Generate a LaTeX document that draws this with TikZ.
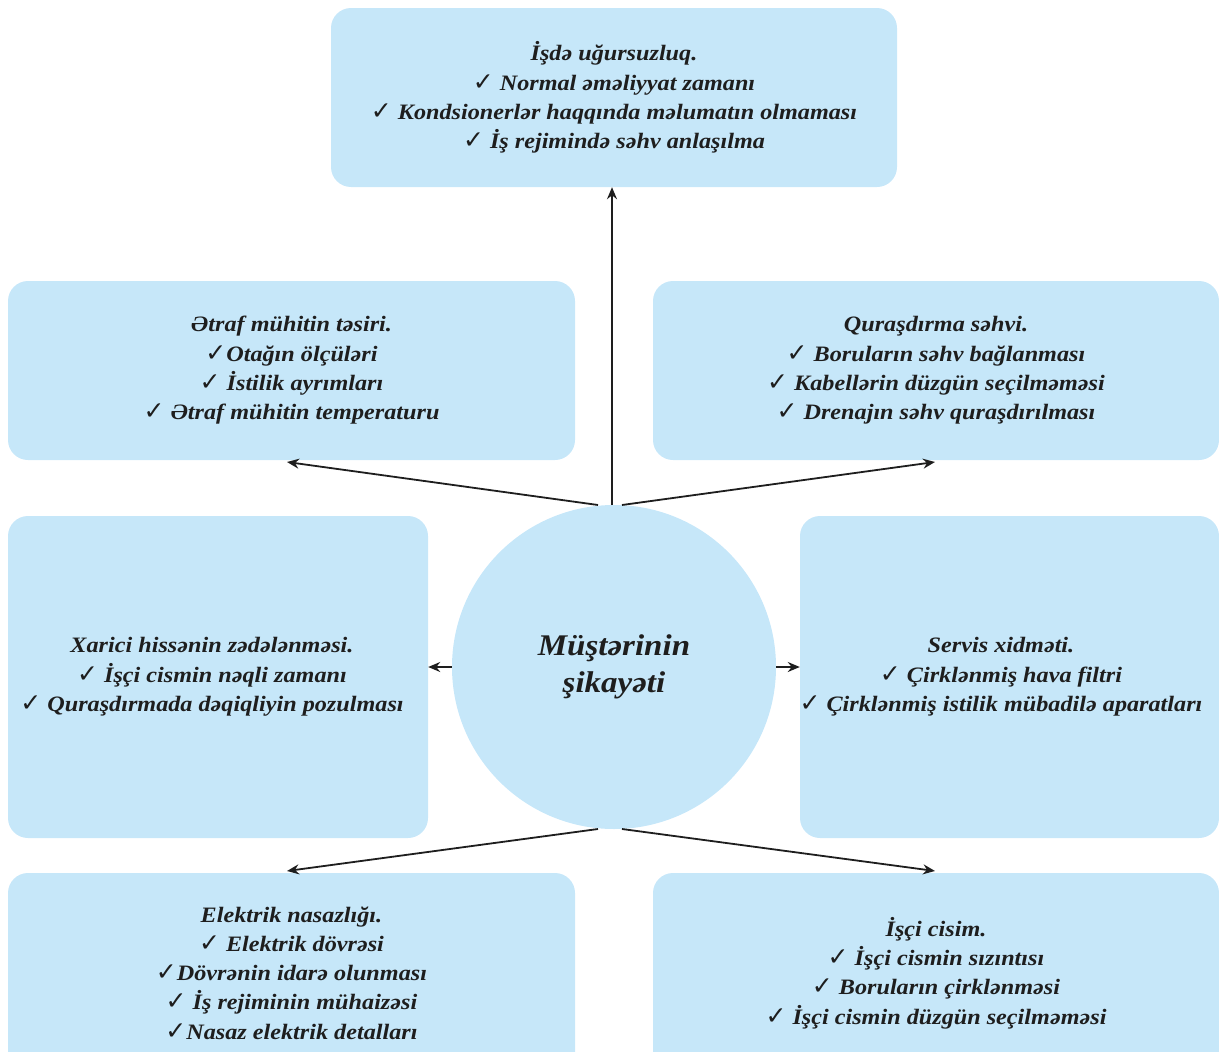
\documentclass[tikz,border=0pt]{standalone}
\usepackage{fontspec}
\setmainfont{Liberation Serif}[FakeStretch=1.1]
\newfontfamily\checkfont{DejaVu Sans Bold}
\usetikzlibrary{arrows.meta}
\definecolor{boxblue}{HTML}{C6E7F9}
\definecolor{txt}{HTML}{1E1E1E}
\newcommand{\ck}{{\checkfont\fontsize{25}{29}\selectfont ✓}}
\tikzset{
  box/.style={fill=boxblue, rounded corners=20, inner sep=0pt, text=txt,
    align=center, font=\fontsize{22}{29.3}\selectfont\bfseries\itshape},
  boxtext/.style={inner sep=0pt, text=txt,
    align=center, font=\fontsize{22}{29.3}\selectfont\bfseries\itshape},
  hub/.style={circle, fill=boxblue, inner sep=0pt, minimum size=324, text=txt,
    align=center, font=\fontsize{30}{37}\selectfont\bfseries\itshape},
  arr/.style={draw=txt, line width=1.8, -{Stealth[length=12,width=10]}}
}
\begin{document}
\begin{tikzpicture}[x=1pt,y=-1pt]
\useasboundingbox (0,0) rectangle (1219,1052);
% bottom boxes run off the lower edge: square off their lower corners
\fill[boxblue] (8,1020) rectangle (575,1052);
\fill[boxblue] (653,1020) rectangle (1219,1052);
% boxes
\node[box, minimum width=566, minimum height=179] (top) at (614,97.5)
  {İşdə uğursuzluq.\\ \ck{} Normal əməliyyat zamanı\\ \ck{} Kondsionerlər haqqında məlumatın olmaması\\ \ck{} İş rejimində səhv anlaşılma};
\node[box, minimum width=567, minimum height=179] (lu) at (291.5,370.5)
  {Ətraf mühitin təsiri.\\ \ck Otağın ölçüləri\\ \ck{} İstilik ayrımları\\ \ck{} Ətraf mühitin temperaturu};
\node[box, minimum width=566, minimum height=179] (ru) at (936,370.5)
  {Quraşdırma səhvi.\\ \ck{} Boruların səhv bağlanması\\ \ck{} Kabellərin düzgün seçilməməsi\\ \ck{} Drenajın səhv quraşdırılması};
\node[box, minimum width=420, minimum height=322] (lm) at (218,677) {};
\node[boxtext] (lmtext) at (212,677)
  {Xarici hissənin zədələnməsi.\\ \ck{} İşçi cismin nəqli zamanı\\ \ck{} Quraşdırmada dəqiqliyin pozulması};
\node[box, minimum width=419, minimum height=322] (rm) at (1009.5,677) {};
\node[boxtext] (rmtext) at (1001,677)
  {Servis xidməti.\\ \ck{} Çirklənmiş hava filtri\\ \ck{} Çirklənmiş istilik mübadilə aparatları};
\node[box, minimum width=567, minimum height=200] (lb) at (291.5,973)
  {Elektrik nasazlığı.\\ \ck{} Elektrik dövrəsi\\ \ck Dövrənin idarə olunması\\ \ck{} İş rejiminin mühaizəsi\\ \ck Nasaz elektrik detalları};
\node[box, minimum width=566, minimum height=200] (rb) at (936,973)
  {İşçi cisim.\\ \ck{} İşçi cismin sızıntısı\\ \ck{} Boruların çirklənməsi\\ \ck{} İşçi cismin düzgün seçilməməsi};
% hub
\node[hub] (hub) at (614,667) {Müştərinin\\şikayəti};
% connectors
\coordinate (hubtop) at (612,505);
\coordinate (hubtl) at (598,505);
\coordinate (hubtr) at (622,505);
\coordinate (hubbl) at (598,829);
\coordinate (hubbr) at (622,829);
\coordinate (tlt) at (287,462);
\coordinate (trt) at (935,462);
\coordinate (blt) at (287,871);
\coordinate (brt) at (935,871);
\draw[arr] (hubtop) -- (top.south -| hubtop);
\draw[arr] (hubtl) -- (tlt);
\draw[arr] (hubtr) -- (trt);
\draw[arr] (hub.west) -- (lm.east |- hub.west);
\draw[arr] (hub.east) -- (rm.west |- hub.east);
\draw[arr] (hubbl) -- (blt);
\draw[arr] (hubbr) -- (brt);
\end{tikzpicture}
\end{document}
